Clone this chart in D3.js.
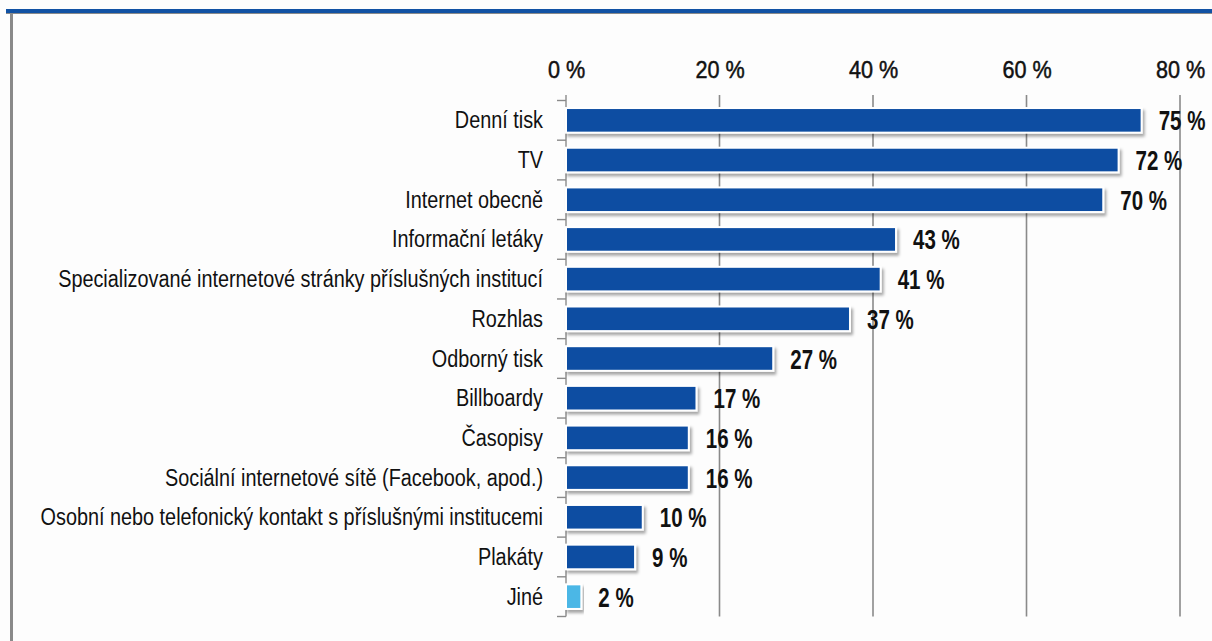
<!DOCTYPE html>
<html>
<head>
<meta charset="utf-8">
<script src="https://cdn.jsdelivr.net/npm/d3@7"></script>
<style>
  body { margin: 0; background: #fdfdfd; }
  .chart text { font-family: "Liberation Sans", Arial, sans-serif; }
</style>
</head>
<body>
<div class="chart"></div>
<script>
// DATA ---------------------------------------------------------------
const categories = [
  'Denní tisk', 'TV', 'Internet obecně', 'Informační letáky',
  'Specializované internetové stránky příslušných institucí', 'Rozhlas',
  'Odborný tisk', 'Billboardy', 'Časopisy',
  'Sociální internetové sítě (Facebook, apod.)',
  'Osobní nebo telefonický kontakt s příslušnými institucemi', 'Plakáty', 'Jiné'
];
const values = [75, 72, 70, 43, 41, 37, 27, 17, 16, 16, 10, 9, 2];
const tickValues = [0, 20, 40, 60, 80];

// CHART INIT ---------------------------------------------------------
const W = 1212, H = 641;
const svg = d3.select('.chart')
    .append('svg')
    .attr('width', W)
    .attr('height', H);

svg.append('rect').attr('width', W).attr('height', H).attr('fill', '#fdfdfd');

// frame: blue top rule and grey left rule
svg.append('rect').attr('x', 6).attr('y', 9).attr('width', W - 6).attr('height', 4).attr('fill', '#1152a4');
svg.append('rect').attr('x', 6).attr('y', 13).attr('width', W - 6).attr('height', 1).attr('fill', '#8a8a8a');
svg.append('rect').attr('x', 10).attr('y', 13).attr('width', 3).attr('height', H - 13).attr('fill', '#8a8a8a');

const defs = svg.append('defs');
const f = defs.append('filter').attr('id', 'shadow')
    .attr('x', '-5%').attr('y', '-20%').attr('width', '120%').attr('height', '160%');
f.append('feDropShadow').attr('dx', 2).attr('dy', 3).attr('stdDeviation', 1.6)
    .attr('flood-color', '#000').attr('flood-opacity', 0.35);

const xScale = d3.scaleLinear().domain([0, 80]).range([566, 1180]);
const yScale = d3.scaleBand().domain(categories).range([100.5, 616.5]).paddingInner(0.38).paddingOuter(0.19);
const step = yScale.step();

// gridlines
svg.append('g')
    .selectAll('line')
    .data(tickValues.slice(1))
    .join('line')
    .attr('x1', d => xScale(d)).attr('x2', d => xScale(d))
    .attr('y1', 95).attr('y2', 616.5)
    .attr('stroke', '#8a8a8a').attr('stroke-width', 1.6);

// top axis labels
const xAxis = d3.axisTop(xScale).tickValues(tickValues).tickFormat(d => d + ' %').tickSize(0).tickPadding(0);
svg.append('g')
    .attr('transform', 'translate(0,78)')
    .call(xAxis)
    .call(g => g.select('.domain').remove())
    .call(g => g.selectAll('text')
        .attr('font-size', 24)
        .attr('fill', '#111')
        .attr('stroke', '#111')
        .attr('stroke-width', 0.5)
        .attr('transform', 'scale(0.9,1)')
        .attr('font-family', '"Liberation Sans", Arial, sans-serif'));

// category axis line and ticks
svg.append('line')
    .attr('x1', 566).attr('x2', 566).attr('y1', 95).attr('y2', 616.5)
    .attr('stroke', '#8a8a8a').attr('stroke-width', 1.4);
svg.append('g')
    .selectAll('line')
    .data(d3.range(categories.length + 1))
    .join('line')
    .attr('x1', 557).attr('x2', 566)
    .attr('y1', i => 100.5 + i * step).attr('y2', i => 100.5 + i * step)
    .attr('stroke', '#8a8a8a').attr('stroke-width', 1.4);

// bars
svg.append('g')
    .selectAll('rect')
    .data(values)
    .join('rect')
    .attr('x', xScale(0))
    .attr('y', (d, i) => yScale(categories[i]))
    .attr('width', d => xScale(d) - xScale(0))
    .attr('height', yScale.bandwidth())
    .attr('fill', (d, i) => categories[i] === 'Jiné' ? '#4cb7e6' : '#0c4da2')
    .attr('stroke', '#ffffff')
    .attr('stroke-width', 2)
    .attr('filter', 'url(#shadow)');

// category labels (condensed)
svg.append('g')
    .selectAll('text')
    .data(categories)
    .join('text')
    .attr('transform', d => `translate(543,${yScale(d) + yScale.bandwidth() / 2 + 8}) scale(0.862,1)`)
    .attr('text-anchor', 'end')
    .attr('font-size', 23)
    .attr('fill', '#111')
    .text(d => d);

// value labels (condensed bold)
svg.append('g')
    .selectAll('text')
    .data(values)
    .join('text')
    .attr('transform', (d, i) => `translate(${xScale(d) + 17},${yScale(categories[i]) + yScale.bandwidth() / 2 + 10}) scale(0.76,1)`)
    .attr('font-size', 27)
    .attr('font-weight', 'bold')
    .attr('fill', '#111')
    .text(d => d + ' %');
</script>
</body>
</html>
